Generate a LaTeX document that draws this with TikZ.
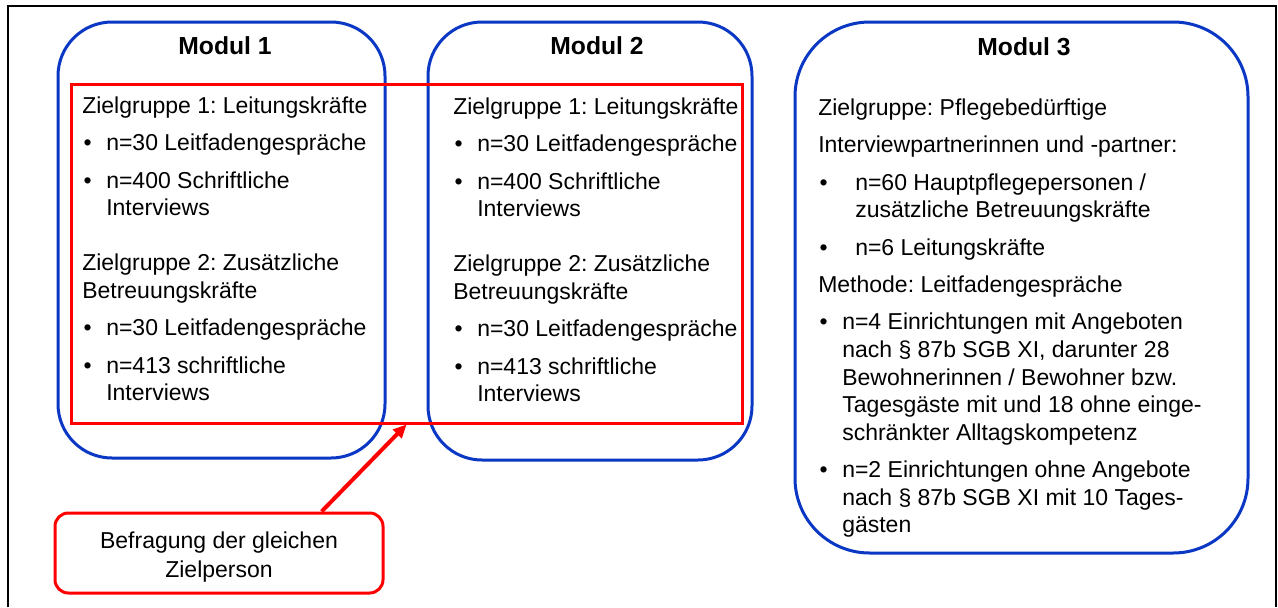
\documentclass[tikz,border=0pt]{standalone}
\usepackage{fontspec}
\setmainfont{Liberation Sans}
\usepackage{xcolor}
\usepackage{tikz}
\usetikzlibrary{positioning,fit,calc,arrows.meta}

\definecolor{modulblau}{RGB}{10,56,196}
\newcommand{\punkt}[1][18pt]{\makebox[#1][l]{\hspace{1pt}\textbullet}}
\frenchspacing

\begin{document}
\begin{tikzpicture}[x=0.75pt, y=-0.75pt]
  \tikzstyle{modul} = [draw=modulblau, line width=2.25pt, inner sep=0pt, rounded corners=40.5pt]
  \tikzstyle{titel} = [anchor=base, inner sep=0pt, font=\fontsize{18.5pt}{22pt}\selectfont\bfseries]
  \tikzstyle{inhalt} = [anchor=north west, inner sep=0pt, align=left, font=\fontsize{17.25pt}{20.7pt}\selectfont]
  \tikzstyle{gleich} = [draw=red, line width=2.25pt, inner sep=0pt]
  \tikzstyle{hinweis} = [draw=red, line width=2.25pt, inner sep=0pt, rounded corners=10pt]
  \tikzstyle{pfeil} = [red, line width=3pt, -{Triangle[length=10pt,width=9pt]}]
  \fill[white] (0,0) rectangle (1278,607);
  \useasboundingbox (0,0) rectangle (1278,607);
  \draw[line width=1.2pt] (8,607) -- (8,6) -- (1276,6) -- (1276,607);

  % die drei Module
  \node[modul, fit={(58,22) (385,458)}] (m1) {};
  \node[modul, fit={(428,22) (752,460)}] (m2) {};
  \node[modul, rounded corners=56pt, fit={(795,22) (1248,553)}] (m3) {};
  \node[titel] (t1) at (225,54) {Modul 1};
  \node[titel] (t2) at (597,54) {Modul 2};
  \node[titel] (t3) at (1024,55) {Modul 3};

  \node[inhalt] (z1) at (82,94) {\strut Zielgruppe 1: Leitungskräfte\\[7.3pt]
    \punkt n=30 Leitfadengespräche\\[7.3pt]
    \punkt n=400 Schriftliche\\
    \hspace*{18pt}Interviews\\[20.6pt]
    Zielgruppe 2: Zusätzliche\\
    Betreuungskräfte\\[7.3pt]
    \punkt n=30 Leitfadengespräche\\[7.3pt]
    \punkt n=413 schriftliche\\
    \hspace*{18pt}Interviews};
  \node[inhalt] (z2) at (453,95) {\strut Zielgruppe 1: Leitungskräfte\\[7.3pt]
    \punkt n=30 Leitfadengespräche\\[7.3pt]
    \punkt n=400 Schriftliche\\
    \hspace*{18pt}Interviews\\[20.6pt]
    Zielgruppe 2: Zusätzliche\\
    Betreuungskräfte\\[7.3pt]
    \punkt n=30 Leitfadengespräche\\[7.3pt]
    \punkt n=413 schriftliche\\
    \hspace*{18pt}Interviews};
  \node[inhalt] (z3) at (818,96) {\strut Zielgruppe: Pflegebedürftige\\[7.3pt]
    Interviewpartnerinnen und -partner:\\[7.3pt]
    \punkt[27.75pt]n=60 Hauptpflegepersonen /\\
    \hspace*{27.75pt}zusätzliche Betreuungskräfte\\[7.3pt]
    \punkt[27.75pt]n=6 Leitungskräfte\\[7.3pt]
    Methode: Leitfadengespräche\\[7.3pt]
    \punkt n=4 Einrichtungen mit Angeboten\\
    \hspace*{18pt}nach § 87b SGB XI, darunter 28\\
    \hspace*{18pt}Bewohnerinnen / Bewohner bzw.\\
    \hspace*{18pt}Tagesgäste mit und 18 ohne einge-\\
    \hspace*{18pt}schränkter Alltagskompetenz\\[7.3pt]
    \punkt n=2 Einrichtungen ohne Angebote\\
    \hspace*{18pt}nach § 87b SGB XI mit 10 Tages-\\
    \hspace*{18pt}gästen};

  % gleiche Zielpersonen in Modul 1 und 2
  \node[gleich, fit={(71,84) (742,423)}] (same) {};
  \node[hinweis, fit={(55,513) (383,593)}] (befragung) {};
  \node[inhalt, anchor=center, align=center, font=\fontsize{17.25pt}{21.2pt}\selectfont] (btext) at ($(befragung.center)+(0,4)$) {Befragung der gleichen\\Zielperson};
  \draw[pfeil] ($(befragung.north west)!0.81!(befragung.north east)$) -- (same.south);
\end{tikzpicture}
\end{document}
